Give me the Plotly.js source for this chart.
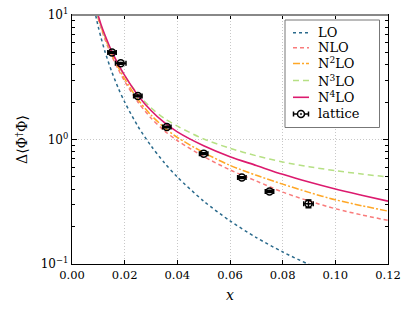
<!DOCTYPE html>
<html>
<head>
<meta charset="utf-8">
<script src="https://cdn.plot.ly/plotly-3.0.1.min.js"></script>
<style>html,body{margin:0;padding:0;background:#fff;}#chart{width:415px;height:312px;}</style>
</head>
<body>
<div id="chart"></div>
<script>
const xs   = [0.0085, 0.0095, 0.010, 0.011, 0.0125, 0.015, 0.0175, 0.020, 0.025, 0.030, 0.035, 0.040, 0.050, 0.060, 0.070, 0.080, 0.090, 0.100, 0.110, 0.120];
const lo   = [11.1, 8.9, 8.0, 6.6, 5.1, 3.55, 2.61, 2.0, 1.28, 0.89, 0.653, 0.50, 0.32, 0.222, 0.163, 0.125, 0.099, 0.080, 0.066, 0.055];
const nlo  = [12.1, 10.1, 9.3, 7.9, 6.4, 4.74, 3.69, 2.94, 2.0, 1.49, 1.18, 0.98, 0.73, 0.57, 0.464, 0.378, 0.321, 0.278, 0.248, 0.224];
const n2lo = [12.3, 10.3, 9.5, 8.1, 6.6, 4.9, 3.83, 3.07, 2.1, 1.57, 1.25, 1.04, 0.785, 0.62, 0.516, 0.438, 0.376, 0.328, 0.294, 0.266];
const n3lo = [12.3, 10.3, 9.5, 8.15, 6.7, 5.05, 3.99, 3.25, 2.32, 1.80, 1.48, 1.28, 1.01, 0.85, 0.74, 0.66, 0.605, 0.562, 0.528, 0.50];
const n4lo = [12.7, 10.6, 9.8, 8.4, 6.9, 5.15, 4.05, 3.27, 2.27, 1.71, 1.37, 1.15, 0.89, 0.727, 0.618, 0.525, 0.455, 0.40, 0.357, 0.32];

const latX    = [0.0152, 0.0185, 0.0250, 0.0360, 0.0500, 0.0645, 0.0750, 0.0898];
const latY    = [5.0, 4.09, 2.24, 1.26, 0.770, 0.495, 0.383, 0.305];
const latXerr = [0.0016, 0.0020, 0.0016, 0.0016, 0.0016, 0.0016, 0.0016, 0.0018];
const latYerr = [0.08, 0.07, 0.04, 0.02, 0.012, 0.008, 0.008, 0.022];

const xTicks = [0, 0.02, 0.04, 0.06, 0.08, 0.10, 0.12];
const yTicks = [0.1, 1, 10];
const yTickText = ['10<sup>−1</sup>', '10<sup>0</sup>', '10<sup>1</sup>'];
const yMinor = [0.2, 0.3, 0.4, 0.5, 0.6, 0.7, 0.8, 0.9, 2, 3, 4, 5, 6, 7, 8, 9];
const names = ['LO', 'NLO', 'N<sup>2</sup>LO', 'N<sup>3</sup>LO', 'N<sup>4</sup>LO', 'lattice'];

const FONT = 'DejaVu Serif';

const styles = [
  {color: '#2a6a8c', dash: 'dot', width: 1.5},
  {color: '#f97b7b', dash: '4px,3px', width: 1.5},
  {color: '#ffa726', dash: '7px,2px,2px,2px', width: 1.5},
  {color: '#b6e084', dash: '6px,4px', width: 1.5},
  {color: '#dc1a6e', dash: 'solid', width: 1.6}
];
const series = [lo, nlo, n2lo, n3lo, n4lo];

const traces = series.map((y, i) => ({x: xs, y: y, name: names[i], type: 'scatter', mode: 'lines',
  line: Object.assign({shape: 'spline', smoothing: 0.8}, styles[i]), hoverinfo: 'skip'}));
traces.push({x: latX, y: latY, name: names[5], type: 'scatter', mode: 'markers',
  marker: {symbol: 'circle-open-dot', size: 7, color: '#000', line: {width: 1.5, color: '#000'}},
  error_x: {type: 'data', array: latXerr, color: '#000', thickness: 1.5, width: 2.5},
  error_y: {type: 'data', array: latYerr, color: '#000', thickness: 1.5, width: 3}});

// manual legend (pixel -> paper helpers)
const ML = 72, MR = 27, MT = 15, MB = 48, W = 415, H = 312;
const PW = W - ML - MR, PH = H - MT - MB;
const fx = px => (px - ML) / PW;
const fy = py => (H - MB - py) / PH;
const legRows = [32.7, 47.8, 63.5, 80.5, 97.3, 114];
const shapes = [
  {type: 'line', xref: 'paper', yref: 'paper', x0: 0, x1: 1, y0: 1, y1: 1, line: {color: '#888', width: 2}, layer: 'above'},
  {type: 'rect', xref: 'paper', yref: 'paper', x0: fx(285), x1: fx(379.5), y0: fy(127.5), y1: fy(20),
    line: {color: '#777', width: 1}, fillcolor: '#fff', layer: 'above'}
];
const annotations = [];
for (let i = 0; i < 6; i++) {
  const y = fy(legRows[i]);
  if (i < 5) {
    shapes.push({type: 'line', xref: 'paper', yref: 'paper', x0: fx(293), x1: fx(309), y0: y, y1: y,
      line: {color: styles[i].color, dash: styles[i].dash, width: styles[i].width}, layer: 'above'});
  } else {
    shapes.push({type: 'line', xref: 'paper', yref: 'paper', x0: fx(293.5), x1: fx(308.5), y0: y, y1: y, line: {color: '#000', width: 1.5}, layer: 'above'});
    shapes.push({type: 'line', xref: 'paper', yref: 'paper', x0: fx(293.5), x1: fx(293.5), y0: fy(legRows[i] - 2.5), y1: fy(legRows[i] + 2.5), line: {color: '#000', width: 1.5}, layer: 'above'});
    shapes.push({type: 'line', xref: 'paper', yref: 'paper', x0: fx(308.5), x1: fx(308.5), y0: fy(legRows[i] - 2.5), y1: fy(legRows[i] + 2.5), line: {color: '#000', width: 1.5}, layer: 'above'});
    shapes.push({type: 'circle', xref: 'paper', yref: 'paper', x0: fx(297.5), x1: fx(304.5), y0: fy(legRows[i] + 3.5), y1: fy(legRows[i] - 3.5), line: {color: '#000', width: 1.5}, fillcolor: '#fff', layer: 'above'});
    shapes.push({type: 'circle', xref: 'paper', yref: 'paper', x0: fx(300.2), x1: fx(301.8), y0: fy(legRows[i] + 0.8), y1: fy(legRows[i] - 0.8), line: {color: '#000', width: 0.5}, fillcolor: '#000', layer: 'above'});
  }
  annotations.push({xref: 'paper', yref: 'paper', x: fx(316), y: y, xanchor: 'left', yanchor: 'middle',
    text: names[i], showarrow: false, font: {family: FONT, size: 13, color: '#000'}});
}

const layout = {
  width: W, height: H,
  margin: {l: ML, r: MR, t: MT, b: MB},
  paper_bgcolor: '#fff', plot_bgcolor: '#fff',
  font: {family: FONT, size: 12, color: '#000'},
  showlegend: false,
  xaxis: {range: [0, 0.12], tickvals: xTicks, tickformat: '.2f',
    ticks: 'inside', ticklen: 4, tickcolor: '#000', tickwidth: 1,
    showline: true, linecolor: '#000', linewidth: 1.3, mirror: 'ticks',
    showgrid: true, gridcolor: '#c8c8c8', griddash: '1px,2px', gridwidth: 1,
    zeroline: false,
    tickfont: {family: FONT, size: 11.5},
    title: {text: '<i>x</i>', font: {family: FONT, size: 14}, standoff: 9}},
  yaxis: {type: 'log', range: [-1, 1], tickvals: yTicks, ticktext: yTickText,
    ticks: 'inside', ticklen: 5, tickcolor: '#000', tickwidth: 1,
    minor: {tickmode: 'array', tickvals: yMinor, ticks: 'inside', ticklen: 3, tickcolor: '#000', tickwidth: 1, showgrid: false},
    showline: true, linecolor: '#000', linewidth: 1.3, mirror: 'ticks',
    showgrid: true, gridcolor: '#c8c8c8', griddash: '1px,2px', gridwidth: 1,
    zeroline: false,
    tickfont: {family: FONT, size: 12},
    title: {text: 'Δ⟨Φ<sup>†</sup>Φ⟩', font: {family: FONT, size: 14}, standoff: 9}},
  shapes: shapes,
  annotations: annotations
};

Plotly.newPlot('chart', traces, layout, {staticPlot: true, displayModeBar: false});
</script>
</body>
</html>
